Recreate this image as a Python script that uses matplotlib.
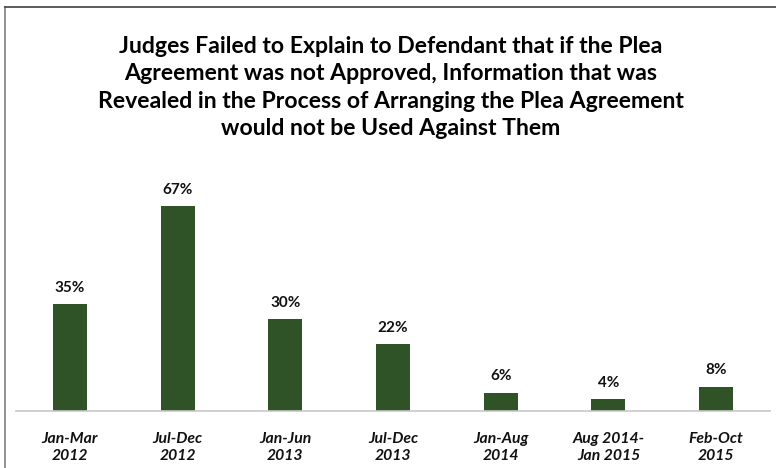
import matplotlib
matplotlib.use("Agg")
import matplotlib.pyplot as plt
from matplotlib.lines import Line2D

categories = ["Jan-Mar\n2012", "Jul-Dec\n2012", "Jan-Jun\n2013", "Jul-Dec\n2013",
              "Jan-Aug\n2014", "Aug 2014-\nJan 2015", "Feb-Oct\n2015"]
values = [35, 67, 30, 22, 6, 4, 8]
title = ("Judges Failed to Explain to Defendant that if the Plea\n"
         "Agreement was not Approved, Information that was\n"
         "Revealed in the Process of Arranging the Plea Agreement\n"
         "would not be Used Against Them")

plt.rcParams['font.family'] = ['Lato', 'DejaVu Sans']

W, H = 776, 468
fig = plt.figure(figsize=(W/100, H/100), dpi=100)
fig.patch.set_facecolor("white")

ax_left = 16 / W
ax_right = 770 / W
ax_bottom = 1 - 411 / H
top_px = 411 - 70 * 3.06
ax = fig.add_axes([ax_left, ax_bottom, ax_right - ax_left, (411 - top_px) / H])

x = range(len(categories))
ax.bar(x, values, width=34/107.7, color="#2F5326")
ax.set_xlim(-0.5, len(categories) - 0.5)
ax.set_ylim(0, 70)
for i, v in enumerate(values):
    ax.text(i, v + 3.0, f"{v}%", ha="center", va="bottom", fontsize=11,
            fontweight="bold", color="#111111", clip_on=False)

for s in ["top", "right", "left"]:
    ax.spines[s].set_visible(False)
ax.spines["bottom"].set_color("#C8C8C8")
ax.spines["bottom"].set_linewidth(1.2)
ax.set_yticks([])
ax.set_xticks(list(x))
ax.set_xticklabels(categories, fontsize=11.3, fontweight="bold", fontstyle="italic",
                   color="#111111", linespacing=1.3)
ax.tick_params(axis="x", length=0, pad=15)

fig.text(391 / W, 1 - 87.5 / H, title, ha="center", va="center", fontsize=16.6,
         fontweight="bold", color="#000000", linespacing=1.37)

fig.add_artist(Line2D([4.5 / W, 4.5 / W], [0, 1 - 6.5 / H], transform=fig.transFigure,
                      color="#7F7F7F", linewidth=1.2))
fig.add_artist(Line2D([4.5 / W, 1], [1 - 6.5 / H, 1 - 6.5 / H], transform=fig.transFigure,
                      color="#3F3F3F", linewidth=1.2))

fig.savefig("out.png", dpi=100, facecolor="white")
